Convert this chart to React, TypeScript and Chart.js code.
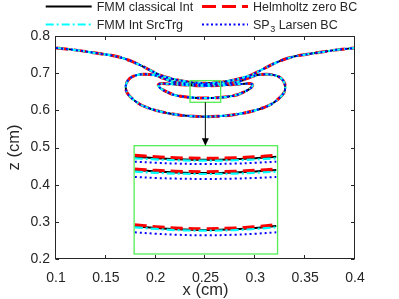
import React, { useEffect, useRef } from "react";
import { Chart, registerables } from "chart.js";
Chart.register(...registerables);

const W = 399;
const H = 299;

// ---- axis ticks ----
const xTicks = [0.1, 0.15, 0.2, 0.25, 0.3, 0.35, 0.4];
const yTicks = [0.2, 0.3, 0.4, 0.5, 0.6, 0.7, 0.8];
const xTickLabels = ["0.1", "0.15", "0.2", "0.25", "0.3", "0.35", "0.4"];
const yTickLabels = ["0.2", "0.3", "0.4", "0.5", "0.6", "0.7", "0.8"];

// ---- series ----
const seriesNames = ["FMM classical Int", "Helmholtz zero BC", "FMM Int SrcTrg", "SP3 Larsen BC"];
const seriesColors = ["#000000", "#ff0000", "#00ffff", "#0000ff"];

// ---- main contour curves (shared geometry) ----
const topX = [0.1, 0.12, 0.14, 0.155, 0.165, 0.175, 0.185, 0.195, 0.205, 0.215, 0.225, 0.237, 0.25, 0.263, 0.275, 0.285, 0.295, 0.305, 0.315, 0.325, 0.335, 0.345, 0.36, 0.38, 0.4];
const topZ = [0.768, 0.762, 0.754, 0.748, 0.742, 0.733, 0.721, 0.707, 0.694, 0.686, 0.68, 0.675, 0.673, 0.675, 0.68, 0.686, 0.694, 0.707, 0.721, 0.733, 0.742, 0.748, 0.754, 0.762, 0.768];

const outerX = [0.25, 0.238, 0.228, 0.217, 0.208, 0.198, 0.188, 0.18, 0.174, 0.171, 0.17, 0.171, 0.1744, 0.179, 0.185, 0.192, 0.2, 0.211, 0.225, 0.238, 0.25, 0.262, 0.275, 0.289, 0.3, 0.308, 0.315, 0.321, 0.3256, 0.329, 0.33, 0.329, 0.326, 0.32, 0.312, 0.302, 0.292, 0.283, 0.272, 0.262, 0.25];
const outerZ = [0.67, 0.671, 0.673, 0.677, 0.686, 0.695, 0.697, 0.694, 0.686, 0.675, 0.662, 0.649, 0.637, 0.626, 0.615, 0.607, 0.6, 0.593, 0.587, 0.584, 0.583, 0.584, 0.587, 0.593, 0.6, 0.607, 0.615, 0.626, 0.637, 0.649, 0.662, 0.675, 0.686, 0.694, 0.697, 0.695, 0.686, 0.677, 0.673, 0.671, 0.67];

const innerX = [0.25, 0.238, 0.225, 0.213, 0.206, 0.2027, 0.2035, 0.206, 0.211, 0.218, 0.227, 0.238, 0.25, 0.262, 0.273, 0.282, 0.289, 0.294, 0.2965, 0.2973, 0.294, 0.287, 0.275, 0.262, 0.25];
const innerZ = [0.666, 0.667, 0.669, 0.671, 0.672, 0.669, 0.663, 0.657, 0.65, 0.642, 0.637, 0.634, 0.633, 0.634, 0.637, 0.642, 0.65, 0.657, 0.663, 0.669, 0.672, 0.671, 0.669, 0.667, 0.666];

// ---- magnified inset lines ----
const insetX = [0.179, 0.2, 0.22, 0.25, 0.28, 0.3, 0.321];
const blackInsetA = [0.4753, 0.4713, 0.4687, 0.4672, 0.4687, 0.4713, 0.4753];
const redInsetA = [0.479, 0.475, 0.4725, 0.471, 0.4725, 0.475, 0.479];
const cyanInsetA = [0.471, 0.4678, 0.4657, 0.4645, 0.4657, 0.4678, 0.471];
const blueInsetA = [0.4618, 0.4588, 0.4567, 0.4556, 0.4567, 0.4588, 0.4618];
const blackInsetB = [0.4395, 0.4355, 0.4329, 0.4314, 0.4329, 0.4355, 0.4395];
const redInsetB = [0.4422, 0.4386, 0.4362, 0.4349, 0.4362, 0.4386, 0.4422];
const cyanInsetB = [0.4349, 0.4319, 0.4298, 0.4287, 0.4298, 0.4319, 0.4349];
const blueInsetB = [0.4207, 0.418, 0.4163, 0.4153, 0.4163, 0.418, 0.4207];
const blackInsetC = [0.2888, 0.2836, 0.28, 0.2781, 0.28, 0.2836, 0.2888];
const redInsetC = [0.2923, 0.2871, 0.2835, 0.2816, 0.2835, 0.2871, 0.2923];
const cyanInsetC = [0.2853, 0.2809, 0.2778, 0.2762, 0.2778, 0.2809, 0.2853];
const blueInsetC = [0.2719, 0.2679, 0.2653, 0.2638, 0.2653, 0.2679, 0.2719];

// zoom boxes: [xmin, xmax, zmin, zmax]
const zoomBox = [0.2345, 0.2652, 0.6216, 0.68];
const insetBox = [0.1784, 0.3223, 0.2135, 0.5049];

const FONT = "'Liberation Sans', Arial, sans-serif";
const AXIS_COLOR = "#262626";
const GREEN = "#55ee55";

const styles = [
  { width: 2, dash: [] as number[], order: 4 },
  { width: 3, dash: [12, 6], order: 3 },
  { width: 2.2, dash: [8, 3, 2, 3], order: 2 },
  { width: 2, dash: [2, 3], order: 1 },
];
const legendDash = [[], [14, 6], [8, 3, 2, 3], [2, 2.5]];

const pts = (xs: number[], zs: number[]) => xs.map((x, i) => ({ x, y: zs[i] }));

const insetSets = [
  [blackInsetA, blackInsetB, blackInsetC],
  [redInsetA, redInsetB, redInsetC],
  [cyanInsetA, cyanInsetB, cyanInsetC],
  [blueInsetA, blueInsetB, blueInsetC],
];

function buildDatasets() {
  const ds: any[] = [];
  for (let s = 0; s < 4; s++) {
    const curves = [pts(topX, topZ), pts(outerX, outerZ), pts(innerX, innerZ), ...insetSets[s].map((z) => pts(insetX, z))];
    curves.forEach((data, ci) => {
      ds.push({
        label: ci === 0 ? seriesNames[s] : "",
        data,
        showLine: true,
        pointRadius: 0,
        borderColor: seriesColors[s],
        backgroundColor: seriesColors[s],
        borderWidth: styles[s].width,
        borderDash: styles[s].dash,
        tension: 0.35,
        order: styles[s].order,
        fill: false,
      });
    });
  }
  return ds;
}

const decorPlugin = {
  id: "decor",
  afterDatasetsDraw(chart: any) {
    const { ctx, scales } = chart;
    const xs = scales.x;
    const ys = scales.y;
    ctx.save();
    ctx.setLineDash([]);
    ctx.strokeStyle = GREEN;
    ctx.lineWidth = 1.3;
    for (const b of [zoomBox, insetBox]) {
      const x0 = xs.getPixelForValue(b[0]);
      const x1 = xs.getPixelForValue(b[1]);
      const y0 = ys.getPixelForValue(b[2]);
      const y1 = ys.getPixelForValue(b[3]);
      ctx.strokeRect(x0, y1, x1 - x0, y0 - y1);
    }
    // arrow
    const ax = xs.getPixelForValue((zoomBox[0] + zoomBox[1]) / 2);
    const ay0 = ys.getPixelForValue(zoomBox[2]);
    const ay1 = ys.getPixelForValue(insetBox[3]);
    ctx.strokeStyle = "#000";
    ctx.lineWidth = 1;
    ctx.beginPath();
    ctx.moveTo(ax, ay0);
    ctx.lineTo(ax, ay1 - 6);
    ctx.stroke();
    ctx.fillStyle = "#000";
    ctx.beginPath();
    ctx.moveTo(ax - 3.5, ay1 - 7.5);
    ctx.lineTo(ax + 3.5, ay1 - 7.5);
    ctx.lineTo(ax, ay1);
    ctx.closePath();
    ctx.fill();
    ctx.restore();
  },
  afterDraw(chart: any) {
    const { ctx, chartArea: a, scales } = chart;
    const xs = scales.x;
    const ys = scales.y;
    ctx.save();
    // frame
    ctx.setLineDash([]);
    ctx.strokeStyle = AXIS_COLOR;
    ctx.lineWidth = 1;
    const L = Math.round(a.left) - 0.5;
    const R = Math.round(a.right) - 0.5;
    const T = Math.round(a.top) + 0.5;
    const B = Math.round(a.bottom) - 0.5;
    ctx.strokeRect(L, T, R - L, B - T);
    const tl = 3.5;
    ctx.beginPath();
    for (const v of xTicks) {
      const px = Math.round(xs.getPixelForValue(v)) - 0.5;
      ctx.moveTo(px, B);
      ctx.lineTo(px, B - tl);
      ctx.moveTo(px, T);
      ctx.lineTo(px, T + tl);
    }
    for (const v of yTicks) {
      const py = Math.round(ys.getPixelForValue(v)) + 0.5;
      ctx.moveTo(L, py);
      ctx.lineTo(L + tl, py);
      ctx.moveTo(R, py);
      ctx.lineTo(R - tl, py);
    }
    ctx.stroke();

    // axis titles
    ctx.fillStyle = AXIS_COLOR;
    ctx.font = `16.5px ${FONT}`;
    ctx.textAlign = "center";
    ctx.textBaseline = "middle";
    ctx.fillText("x (cm)", (a.left + a.right) / 2, 290);
    ctx.save();
    ctx.translate(14, (a.top + a.bottom) / 2);
    ctx.rotate(-Math.PI / 2);
    ctx.fillText("z (cm)", 0, 0);
    ctx.restore();

    // legend
    const cols = [45.7, 202];
    const rows = [6.5, 24.5];
    ctx.font = `12.5px ${FONT}`;
    ctx.textAlign = "left";
    for (let s = 0; s < 4; s++) {
      const cx = cols[s % 2];
      const cy = rows[Math.floor(s / 2)];
      ctx.save();
      ctx.strokeStyle = seriesColors[s];
      ctx.lineWidth = styles[s].width;
      ctx.setLineDash(legendDash[s]);
      ctx.beginPath();
      ctx.moveTo(cx, cy);
      ctx.lineTo(cx + 46, cy);
      ctx.stroke();
      ctx.restore();
      const tx = cx + 51;
      const ty = cy + 1;
      ctx.fillStyle = AXIS_COLOR;
      if (s === 3) {
        ctx.font = `12.5px ${FONT}`;
        ctx.fillText("SP", tx, ty);
        const w1 = ctx.measureText("SP").width;
        ctx.font = `9px ${FONT}`;
        ctx.fillText("3", tx + w1 + 0.5, ty + 4);
        const w2 = ctx.measureText("3").width;
        ctx.font = `12.5px ${FONT}`;
        ctx.fillText(" Larsen BC", tx + w1 + w2 + 0.5, ty);
      } else {
        ctx.fillText(seriesNames[s], tx, ty);
      }
    }
    ctx.restore();
  },
};

export default function App() {
  const ref = useRef<HTMLCanvasElement>(null);
  useEffect(() => {
    if (!ref.current) return;
    const chart = new Chart(ref.current, {
      type: "scatter",
      data: { datasets: buildDatasets() },
      options: {
        animation: false,
        responsive: false,
        devicePixelRatio: 1,
        layout: { padding: { top: 36, right: 44, bottom: 0, left: 0 } },
        plugins: { legend: { display: false }, tooltip: { enabled: false } },
        scales: {
          x: {
            type: "linear",
            min: 0.1,
            max: 0.4,
            grid: { display: false, drawTicks: false },
            border: { display: false },
            afterFit: (s: any) => {
              s.height = 40;
            },
            afterBuildTicks: (s: any) => {
              s.ticks = xTicks.map((v) => ({ value: v }));
            },
            ticks: {
              color: AXIS_COLOR,
              font: { family: FONT, size: 14 },
              padding: 11,
              maxRotation: 0,
              autoSkip: false,
              callback: (v: any) => xTickLabels[xTicks.findIndex((t) => Math.abs(t - v) < 1e-9)] ?? "",
            },
          },
          y: {
            type: "linear",
            min: 0.2,
            max: 0.8,
            grid: { display: false, drawTicks: false },
            border: { display: false },
            afterFit: (s: any) => {
              s.width = 56;
            },
            afterBuildTicks: (s: any) => {
              s.ticks = yTicks.map((v) => ({ value: v }));
            },
            ticks: {
              color: AXIS_COLOR,
              font: { family: FONT, size: 14 },
              padding: 6,
              autoSkip: false,
              callback: (v: any) => yTickLabels[yTicks.findIndex((t) => Math.abs(t - v) < 1e-9)] ?? "",
            },
          },
        },
      },
      plugins: [decorPlugin],
    } as any);
    return () => chart.destroy();
  }, []);
  return (
    <div style={{ position: "absolute", left: 0, top: 0, width: W, height: H, background: "#fff" }}>
      <canvas ref={ref} width={W} height={H} style={{ width: W, height: H, display: "block" }} />
    </div>
  );
}
